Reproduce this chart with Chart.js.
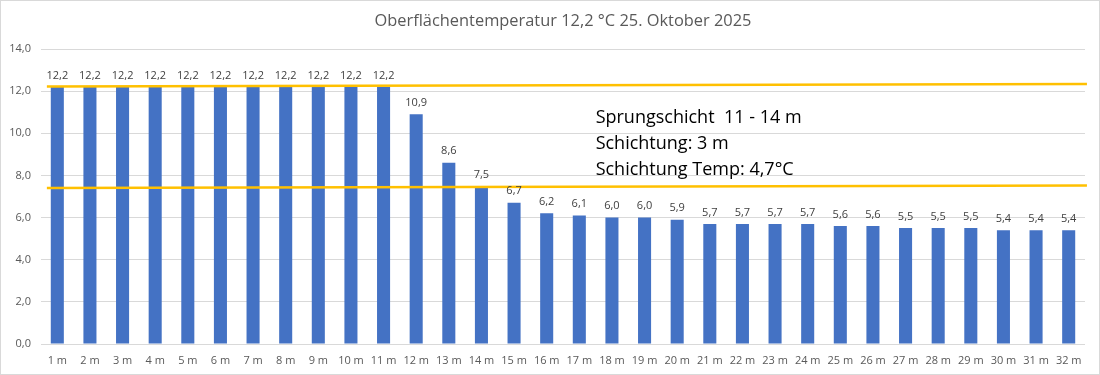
<!DOCTYPE html>
<html>
<head>
<meta charset="utf-8">
<script src="https://cdn.jsdelivr.net/npm/chart.js@4/dist/chart.umd.min.js"></script>
<style>
  html, body { margin: 0; padding: 0; background: #fff; }
  #box { width: 1098px; height: 373px; border: 1px solid #d9d9d9; position: relative; }
</style>
</head>
<body>
<div id="box"><canvas id="temp-chart"></canvas></div>
<script>
/* Data */
let depths = []
for (let i = 1; i <= 32; i++) depths.push(i + ' m')

let temperatures = [12.2, 12.2, 12.2, 12.2, 12.2, 12.2, 12.2, 12.2, 12.2, 12.2, 12.2,
    10.9, 8.6, 7.5, 6.7, 6.2, 6.1, 6.0, 6.0, 5.9, 5.7, 5.7, 5.7, 5.7, 5.6, 5.6,
    5.5, 5.5, 5.5, 5.4, 5.4, 5.4]

let yTicks = [0, 2, 4, 6, 8, 10, 12, 14]

// the two hand drawn orange lines (x in category units, y in °C)
let upperLine = [{ x: 0.18, y: 12.22 }, { x: 32.06, y: 12.34 }]
let lowerLine = [{ x: 0.18, y: 7.4 }, { x: 32.06, y: 7.52 }]

let titleText = 'Oberflächentemperatur 12,2 °C 25. Oktober 2025'
let noteLines = ['Sprungschicht  11 - 14 m', 'Schichtung: 3 m', 'Schichtung Temp: 4,7°C']
let noteY = [10.72, 9.48, 8.24]

let fontName = '"Open Sans", "Liberation Sans", sans-serif'

function fmt(v) {
    return v.toFixed(1).replace('.', ',')
}

// title, value labels and the text note
let extrasPlugin = {
    id: 'extras',
    afterDatasetsDraw(chart) {
        let ctx = chart.ctx
        let ys = chart.scales.y
        let xl = chart.scales.xLine

        ctx.save()
        ctx.fillStyle = '#404040'
        ctx.font = '11px ' + fontName
        ctx.textAlign = 'center'
        ctx.textBaseline = 'bottom'
        let meta = chart.getDatasetMeta(0)
        meta.data.forEach(function (bar, i) {
            ctx.fillText(fmt(temperatures[i]), bar.x, bar.y - 6)
        })

        ctx.fillStyle = '#595959'
        ctx.font = '16.4px ' + fontName
        ctx.textBaseline = 'middle'
        ctx.fillText(titleText, chart.width / 2 + 13, 20)

        ctx.fillStyle = '#000'
        ctx.font = '18px ' + fontName
        ctx.textAlign = 'left'
        noteLines.forEach(function (t, i) {
            ctx.fillText(t, xl.getPixelForValue(17.0), ys.getPixelForValue(noteY[i]))
        })
        ctx.restore()
    }
}

let chartCanvas = document.querySelector('#temp-chart')
let ctx = chartCanvas.getContext('2d')

let tempChart = new Chart(ctx, {
    type: 'bar',
    data: {
        labels: depths,
        datasets: [
            {
                data: temperatures,
                backgroundColor: '#4472C4',
                barPercentage: 0.4,
                categoryPercentage: 1.0,
                grouped: false,
                order: 2
            },
            {
                type: 'line',
                data: upperLine,
                xAxisID: 'xLine',
                borderColor: '#FFC000',
                borderWidth: 2.5,
                pointRadius: 0,
                clip: false,
                order: 1
            },
            {
                type: 'line',
                data: lowerLine,
                xAxisID: 'xLine',
                borderColor: '#FFC000',
                borderWidth: 2.5,
                pointRadius: 0,
                clip: false,
                order: 1
            }
        ]
    },
    options: {
        responsive: true,
        maintainAspectRatio: false,
        animation: false,
        layout: { padding: { left: 0, right: 14, top: 48, bottom: 0 } },
        plugins: {
            legend: { display: false },
            tooltip: { enabled: false },
            title: { display: false }
        },
        scales: {
            x: {
                grid: { display: false, drawTicks: false },
                border: { display: false },
                ticks: {
                    color: '#595959',
                    font: { family: fontName, size: 11 },
                    maxRotation: 0,
                    autoSkip: false,
                    padding: 10
                },
                afterFit: function (scale) { scale.height = 30 }
            },
            xLine: {
                type: 'linear',
                display: false,
                offset: false,
                grid: { offset: false },
                min: 0,
                max: 32
            },
            y: {
                min: 0,
                max: 14,
                afterBuildTicks: function (scale) {
                    scale.ticks = yTicks.map(function (v) { return { value: v } })
                },
                grid: { color: '#d9d9d9', drawTicks: false },
                border: { display: false },
                ticks: {
                    color: '#595959',
                    font: { family: fontName, size: 11 },
                    padding: 10,
                    callback: function (v) { return fmt(v) }
                },
                afterFit: function (scale) { scale.width = 40 }
            }
        }
    },
    plugins: [extrasPlugin]
})
</script>
</body>
</html>
